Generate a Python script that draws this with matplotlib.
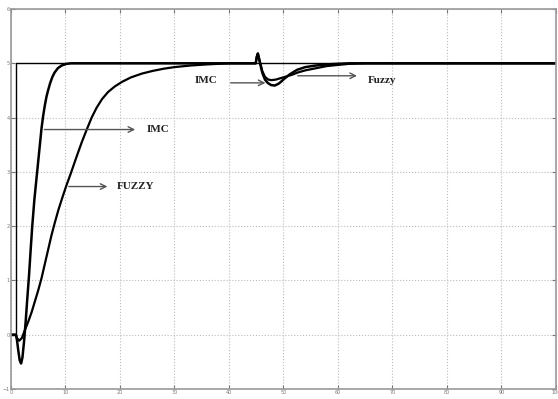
import numpy as np
import matplotlib
matplotlib.use("Agg")
import matplotlib.pyplot as plt

# Set-point (reference step)
t_ref = [0, 0.9, 0.9, 100]
y_ref = [0, 0, 5, 5]

# IMC response
t_imc = [0, 0.9, 1.1, 1.35, 1.6, 1.85, 2.1, 2.4, 2.7, 3.0, 3.3, 3.6, 3.9, 4.3,
         4.8, 5.3, 5.6, 5.9, 6.2, 6.5, 6.8, 7.2, 7.6, 8.0, 8.6, 9.3, 10.2,
         11.0, 44.9, 45.1, 45.3, 45.7, 46.1, 46.6, 47.1, 47.7, 48.4, 49.2,
         50.2, 51.2, 52.5, 54.0, 56.0, 58.0, 60.0, 62.0, 100]
y_imc = [0, 0, -0.1, -0.3, -0.47, -0.53, -0.42, -0.12, 0.25, 0.68, 1.08, 1.55,
         2.0, 2.5, 3.0, 3.5, 3.8, 4.03, 4.22, 4.38, 4.5, 4.64, 4.75, 4.83,
         4.91, 4.96, 4.99, 5.0, 5.0, 5.12, 5.18, 5.0, 4.83, 4.7, 4.64, 4.6,
         4.59, 4.63, 4.72, 4.8, 4.88, 4.93, 4.96, 4.98, 4.99, 5.0, 5.0]

# Fuzzy response
t_fuzzy = [0, 0.9, 1.1, 1.5, 2.0, 2.6, 3.2, 3.8, 4.4, 5.0, 5.6, 6.2, 6.8, 7.4,
           8.0, 8.7, 9.4, 10.1, 11.0, 12.0, 13.0, 13.9, 14.8, 15.7, 16.7,
           17.8, 19.0, 20.4, 22.0, 24.0, 26.0, 28.0, 30.0, 33.0, 36.0, 40.0,
           44.9, 45.1, 45.3, 45.7, 46.1, 46.6, 47.2, 47.8, 48.6, 49.6, 50.6,
           51.6, 52.6, 54.0, 56.0, 58.0, 60.0, 62.0, 65.0, 100]
y_fuzzy = [0, 0, -0.06, -0.11, -0.06, 0.1, 0.25, 0.42, 0.62, 0.82, 1.04, 1.3,
           1.56, 1.82, 2.05, 2.3, 2.52, 2.73, 2.98, 3.27, 3.55, 3.78, 4.0,
           4.18, 4.34, 4.47, 4.57, 4.66, 4.74, 4.81, 4.86, 4.9, 4.93, 4.96,
           4.98, 5.0, 5.0, 5.12, 5.18, 5.02, 4.86, 4.75, 4.7, 4.69, 4.7, 4.73,
           4.76, 4.79, 4.83, 4.87, 4.91, 4.95, 4.97, 4.99, 5.0, 5.0]

x_ticks = np.arange(0, 101, 10)
y_ticks = np.arange(-1, 7, 1)

fig = plt.figure(figsize=(5.58, 3.99), dpi=100)
ax = fig.add_axes([0.0197, 0.025, 0.9767, 0.9524])

ax.plot(t_ref, y_ref, color="black", lw=1.0)
ax.plot(t_imc, y_imc, color="black", lw=1.8)
ax.plot(t_fuzzy, y_fuzzy, color="black", lw=1.6)

ax.set_xlim(0, 100)
ax.set_ylim(-1, 6)
ax.set_xticks(x_ticks)
ax.set_yticks(y_ticks)
ax.tick_params(direction="in", length=3, width=0.8, colors="#777777",
               labelsize=3.5, pad=1, top=True, right=True)
ax.grid(True, linestyle=":", color="#bbbbbb", lw=0.8)
for s in ax.spines.values():
    s.set_color("#999999")
    s.set_linewidth(1.2)

arrow = dict(arrowstyle="->", color="#555555", lw=1.0)
font = dict(family="Liberation Serif", fontweight="bold", fontsize=8,
            va="center", color="#222222")

ax.annotate("", xy=(23.3, 3.78), xytext=(5.6, 3.78), arrowprops=arrow)
ax.text(24.9, 3.78, "IMC", ha="left", **font)
ax.annotate("", xy=(18.2, 2.73), xytext=(10.1, 2.73), arrowprops=arrow)
ax.text(19.4, 2.73, "FUZZY", ha="left", **font)
ax.annotate("", xy=(47.2, 4.64), xytext=(39.8, 4.64), arrowprops=arrow)
ax.text(37.8, 4.68, "IMC", ha="right", **font)
ax.annotate("", xy=(64.0, 4.77), xytext=(52.1, 4.77), arrowprops=arrow)
ax.text(65.5, 4.68, "Fuzzy", ha="left", **font)

fig.savefig("out.png", dpi=100)
